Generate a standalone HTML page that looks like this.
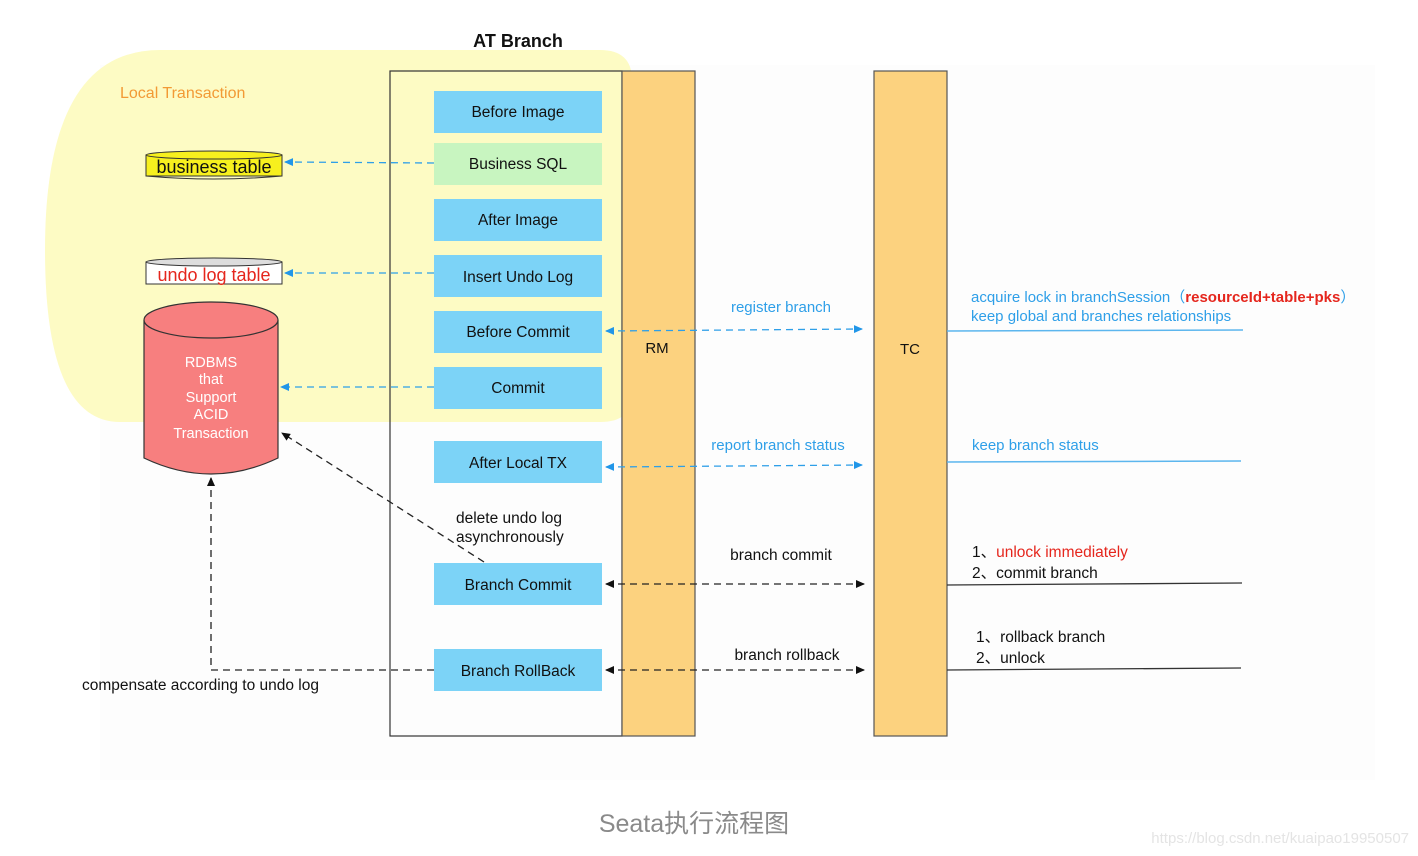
<!DOCTYPE html>
<html><head><meta charset="utf-8"><style>
html,body{margin:0;padding:0;background:#fff;width:1418px;height:856px;overflow:hidden}
svg{display:block}
text{font-family:"Liberation Sans","Noto Sans CJK SC",sans-serif}
</style></head><body>
<svg width="1418" height="856" viewBox="0 0 1418 856" xmlns="http://www.w3.org/2000/svg">
<defs>
<marker id="ab" markerWidth="10" markerHeight="8" refX="8" refY="4" orient="auto-start-reverse" markerUnits="userSpaceOnUse"><path d="M0,0 L9,4 L0,8 Z" fill="#2196e8"/></marker>
<marker id="ak" markerWidth="10" markerHeight="8" refX="8" refY="4" orient="auto-start-reverse" markerUnits="userSpaceOnUse"><path d="M0,0 L9,4 L0,8 Z" fill="#111"/></marker>
</defs>
<rect x="100" y="65" width="1275" height="715" fill="#fdfdfd"/>
<path d="M160,50 L600,50 Q632,50 632,80 L632,395 Q632,422 600,422 L120,422 Q45,422 45,250 Q45,50 160,50 Z" fill="#fdfbc4"/>
<text x="120" y="98" font-size="16" fill="#f29a35">Local Transaction</text>
<text x="518" y="47" font-size="18" font-weight="bold" text-anchor="middle" fill="#111">AT Branch</text>
<rect x="390" y="71" width="232" height="665" fill="none" stroke="#333" stroke-width="1.2"/>
<rect x="622" y="71" width="73" height="665" fill="#fcd27f" stroke="#555" stroke-width="1.2"/>
<text x="657" y="353" font-size="15" text-anchor="middle" fill="#111">RM</text>
<rect x="874" y="71" width="73" height="665" fill="#fcd27f" stroke="#555" stroke-width="1.2"/>
<text x="910" y="354" font-size="15" text-anchor="middle" fill="#111">TC</text>
<g font-size="15.5" text-anchor="middle" fill="#111">
<rect x="434" y="91" width="168" height="42" fill="#7cd3f7"/><text x="518" y="117">Before Image</text>
<rect x="434" y="143" width="168" height="42" fill="#c8f5c0"/><text x="518" y="169">Business SQL</text>
<rect x="434" y="199" width="168" height="42" fill="#7cd3f7"/><text x="518" y="225">After Image</text>
<rect x="434" y="255" width="168" height="42" fill="#7cd3f7"/><text x="518" y="282">Insert Undo Log</text>
<rect x="434" y="311" width="168" height="42" fill="#7cd3f7"/><text x="518" y="337">Before Commit</text>
<rect x="434" y="367" width="168" height="42" fill="#7cd3f7"/><text x="518" y="393">Commit</text>
<rect x="434" y="441" width="168" height="42" fill="#7cd3f7"/><text x="518" y="468">After Local TX</text>
<rect x="434" y="563" width="168" height="42" fill="#7cd3f7"/><text x="518" y="590">Branch Commit</text>
<rect x="434" y="649" width="168" height="42" fill="#7cd3f7"/><text x="518" y="676">Branch RollBack</text>
</g>
<rect x="146" y="155" width="136" height="21" fill="#f7f01e" stroke="#333"/>
<ellipse cx="214" cy="155" rx="68" ry="4" fill="#f7f01e" stroke="#333"/>
<path d="M146,176 Q214,182 282,176" fill="none" stroke="#333"/>
<text x="214" y="173" font-size="18" text-anchor="middle" fill="#111">business table</text>
<rect x="146" y="262" width="136" height="22" fill="#fff" stroke="#333"/>
<ellipse cx="214" cy="262" rx="68" ry="4" fill="#ddd" stroke="#333"/>
<text x="214" y="281" font-size="18" text-anchor="middle" fill="#e5261d">undo log table</text>
<path d="M144,320 L144,458 Q211,490 278,458 L278,320" fill="#f77f7f" stroke="#333" stroke-width="1.2"/>
<ellipse cx="211" cy="320" rx="67" ry="18" fill="#f77f7f" stroke="#333" stroke-width="1.2"/>
<g font-size="14.5" fill="#fff" text-anchor="middle">
<text x="211" y="367">RDBMS</text><text x="211" y="384">that</text><text x="211" y="402">Support</text><text x="211" y="419">ACID</text><text x="211" y="438">Transaction</text>
</g>
<g stroke="#2e9fe8" stroke-width="1.3" stroke-dasharray="7,5" fill="none">
<line x1="434" y1="163" x2="285" y2="162" marker-end="url(#ab)"/>
<line x1="434" y1="273" x2="285" y2="273" marker-end="url(#ab)"/>
<line x1="434" y1="387" x2="281" y2="387" marker-end="url(#ab)"/>
<line x1="606" y1="331" x2="862" y2="329" marker-start="url(#ab)" marker-end="url(#ab)"/>
<line x1="606" y1="467" x2="862" y2="465" marker-start="url(#ab)" marker-end="url(#ab)"/>
</g>
<g stroke="#222" stroke-width="1.3" stroke-dasharray="7,5" fill="none">
<line x1="606" y1="584" x2="864" y2="584" marker-start="url(#ak)" marker-end="url(#ak)"/>
<line x1="606" y1="670" x2="864" y2="670" marker-start="url(#ak)" marker-end="url(#ak)"/>
<line x1="484" y1="562" x2="282" y2="433" marker-end="url(#ak)"/>
<polyline points="434,670 211,670 211,478" marker-end="url(#ak)"/>
</g>
<g font-size="15" fill="#2e9fe8">
<text x="781" y="312" text-anchor="middle">register branch</text>
<text x="778" y="450" text-anchor="middle">report branch status</text>
<text x="971" y="302">acquire lock in branchSession（<tspan fill="#e5261d" font-weight="bold">resourceId+table+pks</tspan>）</text>
<text x="971" y="321">keep global and branches relationships</text>
<text x="972" y="450">keep branch status</text>
</g>
<g font-size="15.5" fill="#111">
<text x="781" y="560" text-anchor="middle">branch commit</text>
<text x="787" y="660" text-anchor="middle">branch rollback</text>
<text x="456" y="523">delete undo log</text>
<text x="456" y="542">asynchronously</text>
<text x="82" y="690">compensate according to undo log</text>
<text x="972" y="557">1、<tspan fill="#e5261d">unlock immediately</tspan></text>
<text x="972" y="578">2、commit branch</text>
<text x="976" y="642">1、rollback branch</text>
<text x="976" y="663">2、unlock</text>
</g>
<line x1="947" y1="331" x2="1243" y2="330" stroke="#5cb6ee" stroke-width="1.5"/>
<line x1="947" y1="462" x2="1241" y2="461" stroke="#5cb6ee" stroke-width="1.5"/>
<line x1="947" y1="585" x2="1242" y2="583" stroke="#333" stroke-width="1.3"/>
<line x1="947" y1="670" x2="1241" y2="668" stroke="#333" stroke-width="1.3"/>
<text x="694" y="832" font-size="25" text-anchor="middle" fill="#8a8a8a">Seata执行流程图</text>
<text x="1409" y="843" font-size="15" text-anchor="end" fill="#e4e4e4">https://blog.csdn.net/kuaipao19950507</text>
</svg>
</body></html>
